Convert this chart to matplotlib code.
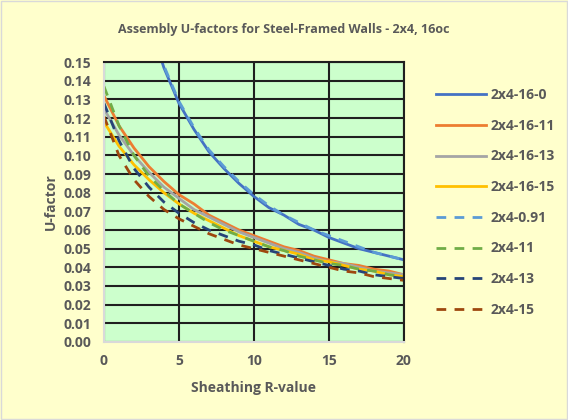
import matplotlib.pyplot as plt
from matplotlib.ticker import MultipleLocator, FormatStrFormatter

# data (U-factor vs sheathing R-value)
r_value = list(range(0, 21))

u_16_0 = [0.357, 0.263, 0.208, 0.172, 0.147, 0.128, 0.114, 0.102, 0.093, 0.085, 0.078,
          0.072, 0.068, 0.063, 0.060, 0.056, 0.053, 0.050, 0.048, 0.046, 0.044]
u_16_11 = [0.132, 0.116, 0.104, 0.094, 0.086, 0.079, 0.074, 0.068, 0.064, 0.060, 0.057,
           0.054, 0.051, 0.049, 0.046, 0.044, 0.042, 0.041, 0.039, 0.038, 0.036]
u_16_13 = [0.125, 0.111, 0.100, 0.091, 0.083, 0.077, 0.071, 0.067, 0.063, 0.059, 0.056,
           0.053, 0.050, 0.048, 0.045, 0.043, 0.042, 0.040, 0.038, 0.037, 0.036]
u_16_15 = [0.118, 0.105, 0.095, 0.087, 0.080, 0.074, 0.069, 0.065, 0.061, 0.057, 0.054,
           0.051, 0.049, 0.047, 0.044, 0.043, 0.041, 0.039, 0.038, 0.036, 0.035]
u_0_91 = [0.358, 0.264, 0.209, 0.173, 0.148, 0.129, 0.115, 0.103, 0.094, 0.086, 0.079,
          0.073, 0.068, 0.064, 0.060, 0.057, 0.054, 0.051, 0.048, 0.046, 0.044]
u_11 = [0.137, 0.116, 0.100, 0.089, 0.081, 0.074, 0.069, 0.064, 0.060, 0.057, 0.054,
        0.051, 0.049, 0.046, 0.044, 0.042, 0.041, 0.039, 0.038, 0.036, 0.035]
u_13 = [0.128, 0.108, 0.093, 0.083, 0.075, 0.069, 0.064, 0.060, 0.057, 0.054, 0.052,
        0.049, 0.047, 0.045, 0.043, 0.041, 0.039, 0.038, 0.036, 0.035, 0.034]
u_15 = [0.121, 0.100, 0.087, 0.078, 0.071, 0.066, 0.062, 0.058, 0.055, 0.052, 0.050,
        0.048, 0.046, 0.044, 0.042, 0.040, 0.038, 0.037, 0.035, 0.034, 0.033]

dash = (0, (3.5, 3))
series = [
    ("2x4-16-0", u_16_0, "#4472C4", "-"),
    ("2x4-16-11", u_16_11, "#ED7D31", "-"),
    ("2x4-16-13", u_16_13, "#A5A5A5", "-"),
    ("2x4-16-15", u_16_15, "#FFC000", "-"),
    ("2x4-0.91", u_0_91, "#5B9BD5", dash),
    ("2x4-11", u_11, "#70AD47", dash),
    ("2x4-13", u_13, "#264478", dash),
    ("2x4-15", u_15, "#9E480E", dash),
]

plt.rcParams['font.family'] = ['Open Sans', 'DejaVu Sans']
text_color = "#595959"

fig = plt.figure(figsize=(5.68, 4.2), dpi=100, facecolor="#FFFFCC")
ax = fig.add_axes([0.183, 0.186, 0.528, 0.666])
ax.set_facecolor("#CCFFCC")

for name, vals, color, ls in series:
    ax.plot(r_value, vals, color=color, linestyle=ls, linewidth=2, label=name)

ax.set_xlim(0, 20)
ax.set_ylim(0, 0.15)
ax.xaxis.set_major_locator(MultipleLocator(5))
ax.yaxis.set_major_locator(MultipleLocator(0.01))
ax.yaxis.set_major_formatter(FormatStrFormatter("%.2f"))
ax.grid(True, color="#1F1F1F", linewidth=1.5)
ax.set_axisbelow(True)

for side in ["top", "right"]:
    ax.spines[side].set_color("#1F1F1F")
    ax.spines[side].set_linewidth(1.5)
for side in ["left", "bottom"]:
    ax.spines[side].set_color("#D9D9D9")
    ax.spines[side].set_linewidth(1.5)

ax.tick_params(length=0, pad=9, labelsize=10, labelcolor=text_color)
for lbl in ax.get_xticklabels() + ax.get_yticklabels():
    lbl.set_fontweight("bold")

ax.set_xlabel("Sheathing R-value", fontsize=10, fontweight="bold", color=text_color, labelpad=9)
ax.set_ylabel("U-factor", fontsize=10, fontweight="bold", color=text_color, labelpad=4)
fig.suptitle("Assembly U-factors for Steel-Framed Walls - 2x4, 16oc", x=0.5, y=0.945,
             fontsize=9, fontweight="bold", color=text_color)

leg = ax.legend(loc="upper left", bbox_to_anchor=(1.067, 0.952), frameon=False,
                handlelength=3.6, handletextpad=0.3, labelspacing=1.2,
                prop={"size": 10, "weight": "bold"})
for t in leg.get_texts():
    t.set_color(text_color)

# light border around the whole chart
fig.patches.append(plt.Rectangle((0.002, 0.002), 0.996, 0.996, transform=fig.transFigure,
                                 fill=False, edgecolor="#D9D9D9", linewidth=1))

fig.savefig("out.png", dpi=100, facecolor=fig.get_facecolor())
